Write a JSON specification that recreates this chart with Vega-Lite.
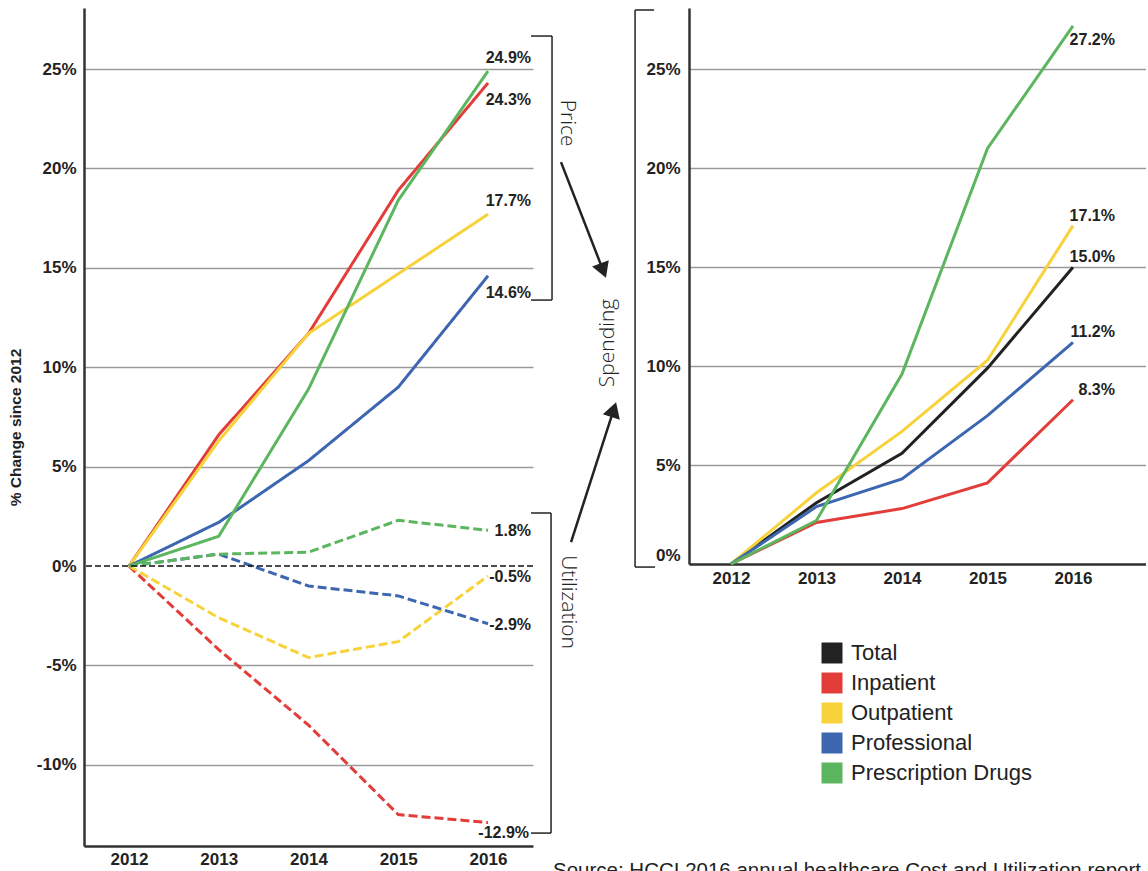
{
  "$schema": "https://vega.github.io/schema/vega-lite/v6.json",
  "background": "white",
  "padding": {"left": 8, "top": 8, "right": 0, "bottom": 0},
  "bounds": "flush",
  "spacing": 156,
  "title": {
    "text": "Source: HCCI 2016 annual healthcare Cost and Utilization report",
    "orient": "bottom",
    "anchor": "end",
    "font": "Liberation Sans",
    "fontSize": 20.5,
    "fontWeight": "normal",
    "color": "#222",
    "offset": -6,
    "dx": -5
  },
  "config": {
    "view": {"stroke": null},
    "font": "Liberation Sans",
    "locale": {"number": {"decimal": ".", "thousands": ",", "grouping": [3], "currency": ["$", ""], "minus": "-"}},
    "axis": {
      "labelFont": "Liberation Sans",
      "labelFontWeight": "bold",
      "labelFontSize": 17,
      "labelColor": "#222",
      "domainColor": "#333",
      "domainWidth": 2.5,
      "ticks": false,
      "gridColor": "#9a9a9a",
      "gridWidth": 1.5,
      "titleFont": "Liberation Sans",
      "titleFontWeight": "bold",
      "titleFontSize": 15.5,
      "titleColor": "#222"
    }
  },
  "datasets": {
    "trends": [
      {"panel": "left", "measure": "Price", "series": "Inpatient", "year": 2012, "value": 0},
      {"panel": "left", "measure": "Price", "series": "Inpatient", "year": 2013, "value": 0.066},
      {"panel": "left", "measure": "Price", "series": "Inpatient", "year": 2014, "value": 0.117},
      {"panel": "left", "measure": "Price", "series": "Inpatient", "year": 2015, "value": 0.189},
      {"panel": "left", "measure": "Price", "series": "Inpatient", "year": 2016, "value": 0.243},
      {"panel": "left", "measure": "Price", "series": "Outpatient", "year": 2012, "value": 0},
      {"panel": "left", "measure": "Price", "series": "Outpatient", "year": 2013, "value": 0.063},
      {"panel": "left", "measure": "Price", "series": "Outpatient", "year": 2014, "value": 0.117},
      {"panel": "left", "measure": "Price", "series": "Outpatient", "year": 2015, "value": 0.147},
      {"panel": "left", "measure": "Price", "series": "Outpatient", "year": 2016, "value": 0.177},
      {"panel": "left", "measure": "Price", "series": "Professional", "year": 2012, "value": 0},
      {"panel": "left", "measure": "Price", "series": "Professional", "year": 2013, "value": 0.022},
      {"panel": "left", "measure": "Price", "series": "Professional", "year": 2014, "value": 0.053},
      {"panel": "left", "measure": "Price", "series": "Professional", "year": 2015, "value": 0.090},
      {"panel": "left", "measure": "Price", "series": "Professional", "year": 2016, "value": 0.146},
      {"panel": "left", "measure": "Price", "series": "Prescription Drugs", "year": 2012, "value": 0},
      {"panel": "left", "measure": "Price", "series": "Prescription Drugs", "year": 2013, "value": 0.015},
      {"panel": "left", "measure": "Price", "series": "Prescription Drugs", "year": 2014, "value": 0.089},
      {"panel": "left", "measure": "Price", "series": "Prescription Drugs", "year": 2015, "value": 0.184},
      {"panel": "left", "measure": "Price", "series": "Prescription Drugs", "year": 2016, "value": 0.249},
      {"panel": "left", "measure": "Utilization", "series": "Inpatient", "year": 2012, "value": 0},
      {"panel": "left", "measure": "Utilization", "series": "Inpatient", "year": 2013, "value": -0.042},
      {"panel": "left", "measure": "Utilization", "series": "Inpatient", "year": 2014, "value": -0.080},
      {"panel": "left", "measure": "Utilization", "series": "Inpatient", "year": 2015, "value": -0.125},
      {"panel": "left", "measure": "Utilization", "series": "Inpatient", "year": 2016, "value": -0.129},
      {"panel": "left", "measure": "Utilization", "series": "Outpatient", "year": 2012, "value": 0},
      {"panel": "left", "measure": "Utilization", "series": "Outpatient", "year": 2013, "value": -0.026},
      {"panel": "left", "measure": "Utilization", "series": "Outpatient", "year": 2014, "value": -0.046},
      {"panel": "left", "measure": "Utilization", "series": "Outpatient", "year": 2015, "value": -0.038},
      {"panel": "left", "measure": "Utilization", "series": "Outpatient", "year": 2016, "value": -0.005},
      {"panel": "left", "measure": "Utilization", "series": "Professional", "year": 2012, "value": 0},
      {"panel": "left", "measure": "Utilization", "series": "Professional", "year": 2013, "value": 0.006},
      {"panel": "left", "measure": "Utilization", "series": "Professional", "year": 2014, "value": -0.010},
      {"panel": "left", "measure": "Utilization", "series": "Professional", "year": 2015, "value": -0.015},
      {"panel": "left", "measure": "Utilization", "series": "Professional", "year": 2016, "value": -0.029},
      {"panel": "left", "measure": "Utilization", "series": "Prescription Drugs", "year": 2012, "value": 0},
      {"panel": "left", "measure": "Utilization", "series": "Prescription Drugs", "year": 2013, "value": 0.006},
      {"panel": "left", "measure": "Utilization", "series": "Prescription Drugs", "year": 2014, "value": 0.007},
      {"panel": "left", "measure": "Utilization", "series": "Prescription Drugs", "year": 2015, "value": 0.023},
      {"panel": "left", "measure": "Utilization", "series": "Prescription Drugs", "year": 2016, "value": 0.018},
      {"panel": "right", "measure": "Spending", "series": "Total", "year": 2012, "value": 0},
      {"panel": "right", "measure": "Spending", "series": "Total", "year": 2013, "value": 0.031},
      {"panel": "right", "measure": "Spending", "series": "Total", "year": 2014, "value": 0.056},
      {"panel": "right", "measure": "Spending", "series": "Total", "year": 2015, "value": 0.099},
      {"panel": "right", "measure": "Spending", "series": "Total", "year": 2016, "value": 0.150},
      {"panel": "right", "measure": "Spending", "series": "Inpatient", "year": 2012, "value": 0},
      {"panel": "right", "measure": "Spending", "series": "Inpatient", "year": 2013, "value": 0.021},
      {"panel": "right", "measure": "Spending", "series": "Inpatient", "year": 2014, "value": 0.028},
      {"panel": "right", "measure": "Spending", "series": "Inpatient", "year": 2015, "value": 0.041},
      {"panel": "right", "measure": "Spending", "series": "Inpatient", "year": 2016, "value": 0.083},
      {"panel": "right", "measure": "Spending", "series": "Outpatient", "year": 2012, "value": 0},
      {"panel": "right", "measure": "Spending", "series": "Outpatient", "year": 2013, "value": 0.036},
      {"panel": "right", "measure": "Spending", "series": "Outpatient", "year": 2014, "value": 0.067},
      {"panel": "right", "measure": "Spending", "series": "Outpatient", "year": 2015, "value": 0.103},
      {"panel": "right", "measure": "Spending", "series": "Outpatient", "year": 2016, "value": 0.171},
      {"panel": "right", "measure": "Spending", "series": "Professional", "year": 2012, "value": 0},
      {"panel": "right", "measure": "Spending", "series": "Professional", "year": 2013, "value": 0.029},
      {"panel": "right", "measure": "Spending", "series": "Professional", "year": 2014, "value": 0.043},
      {"panel": "right", "measure": "Spending", "series": "Professional", "year": 2015, "value": 0.075},
      {"panel": "right", "measure": "Spending", "series": "Professional", "year": 2016, "value": 0.112},
      {"panel": "right", "measure": "Spending", "series": "Prescription Drugs", "year": 2012, "value": 0},
      {"panel": "right", "measure": "Spending", "series": "Prescription Drugs", "year": 2013, "value": 0.022},
      {"panel": "right", "measure": "Spending", "series": "Prescription Drugs", "year": 2014, "value": 0.096},
      {"panel": "right", "measure": "Spending", "series": "Prescription Drugs", "year": 2015, "value": 0.210},
      {"panel": "right", "measure": "Spending", "series": "Prescription Drugs", "year": 2016, "value": 0.272}
    ],
    "brackets": [
      {"x1": 2016.713, "y1": 0.2666, "x2": 2016.713, "y2": 0.1338},
      {"x1": 2016.479, "y1": 0.2666, "x2": 2016.713, "y2": 0.2666},
      {"x1": 2016.479, "y1": 0.1338, "x2": 2016.713, "y2": 0.1338},
      {"x1": 2016.702, "y1": 0.0267, "x2": 2016.702, "y2": -0.1343},
      {"x1": 2016.479, "y1": 0.0267, "x2": 2016.702, "y2": 0.0267},
      {"x1": 2016.479, "y1": -0.1343, "x2": 2016.702, "y2": -0.1343},
      {"x1": 2017.638, "y1": 0.2797, "x2": 2017.638, "y2": -0.0005},
      {"x1": 2017.638, "y1": 0.2797, "x2": 2017.850, "y2": 0.2797},
      {"x1": 2017.638, "y1": -0.0005, "x2": 2017.861, "y2": -0.0005}
    ],
    "arrows": [
      {"name": "price", "x1": 2016.813, "y1": 0.2032, "x2": 2017.283, "y2": 0.1486},
      {"name": "utilization", "x1": 2016.925, "y1": 0.0121, "x2": 2017.40, "y2": 0.0787}
    ],
    "notes": [
      {"text": "Price", "x": 2016.880, "y": 0.2228, "dir": "down"},
      {"text": "Utilization", "x": 2016.891, "y": -0.0181, "dir": "down"},
      {"text": "Spending", "x": 2017.337, "y": 0.1122, "dir": "up"}
    ]
  },
  "resolve": {
    "scale": {"color": "independent", "x": "independent", "y": "independent", "strokeDash": "independent"},
    "legend": {"color": "independent"}
  },
  "hconcat": [
    {
      "width": 449,
      "height": 838,
      "layer": [
        {
          "data": {"name": "trends"},
          "transform": [{"filter": "datum.panel === 'left'"}],
          "mark": {"type": "line", "strokeWidth": 3},
          "encoding": {
            "x": {"field": "year", "type": "quantitative", "scale": {"domain": [2011.499, 2016.501], "nice": false, "zero": false},
                  "axis": {"values": [2012, 2013, 2014, 2015, 2016], "format": "d", "title": null, "grid": false, "labelPadding": 5}},
            "y": {"field": "value", "type": "quantitative", "scale": {"domain": [-0.1408, 0.2807], "nice": false, "zero": false},
                  "axis": {"values": [-0.1, -0.05, 0, 0.05, 0.1, 0.15, 0.2, 0.25], "format": ".0%", "title": "% Change since 2012",
                           "grid": true, "gridColor": {"condition": {"test": "datum.value === 0", "value": "rgba(0,0,0,0)"}, "value": "#9a9a9a"},
                           "labelPadding": 8, "titlePadding": 13}},
            "color": {"field": "series", "type": "nominal",
                      "scale": {"domain": ["Total", "Inpatient", "Outpatient", "Professional", "Prescription Drugs"],
                                "range": ["#222222", "#e23d39", "#f8d23a", "#3c66b0", "#5cb660"]},
                      "legend": null},
            "strokeDash": {"field": "measure", "type": "nominal",
                           "scale": {"domain": ["Price", "Utilization"], "range": [[1, 0], [9, 4]]}, "legend": null}
          }
        },
        {
          "data": {"values": [{}]},
          "mark": {"type": "rule", "strokeDash": [6, 3], "color": "#111", "strokeWidth": 1.5},
          "encoding": {"y": {"datum": 0, "type": "quantitative", "scale": {"domain": [-0.1408, 0.2807], "nice": false, "zero": false}}}
        },
        {
          "data": {"name": "trends"},
          "transform": [{"filter": "datum.panel === 'left' && datum.year === 2016 && datum.measure === 'Price' && (datum.series === 'Prescription Drugs' || datum.series === 'Outpatient')"}],
          "mark": {"type": "text", "align": "right", "dx": 43, "dy": -13, "fontWeight": "bold", "fontSize": 16, "color": "#222"},
          "encoding": {
            "x": {"field": "year", "type": "quantitative", "scale": {"domain": [2011.499, 2016.501], "nice": false, "zero": false}},
            "y": {"field": "value", "type": "quantitative", "scale": {"domain": [-0.1408, 0.2807], "nice": false, "zero": false}},
            "text": {"field": "value", "type": "quantitative", "format": ".1%"}
          }
        },
        {
          "data": {"name": "trends"},
          "transform": [{"filter": "datum.panel === 'left' && datum.year === 2016 && datum.measure === 'Price' && (datum.series === 'Inpatient' || datum.series === 'Professional')"}],
          "mark": {"type": "text", "align": "right", "dx": 43, "dy": 17, "fontWeight": "bold", "fontSize": 16, "color": "#222"},
          "encoding": {
            "x": {"field": "year", "type": "quantitative", "scale": {"domain": [2011.499, 2016.501], "nice": false, "zero": false}},
            "y": {"field": "value", "type": "quantitative", "scale": {"domain": [-0.1408, 0.2807], "nice": false, "zero": false}},
            "text": {"field": "value", "type": "quantitative", "format": ".1%"}
          }
        },
        {
          "data": {"name": "trends"},
          "transform": [{"filter": "datum.panel === 'left' && datum.year === 2016 && datum.measure === 'Utilization' && datum.series !== 'Inpatient'"}],
          "mark": {"type": "text", "align": "right", "dx": 43, "dy": 1, "fontWeight": "bold", "fontSize": 16, "color": "#222"},
          "encoding": {
            "x": {"field": "year", "type": "quantitative", "scale": {"domain": [2011.499, 2016.501], "nice": false, "zero": false}},
            "y": {"field": "value", "type": "quantitative", "scale": {"domain": [-0.1408, 0.2807], "nice": false, "zero": false}},
            "text": {"field": "value", "type": "quantitative", "format": ".1%"}
          }
        },
        {
          "data": {"name": "trends"},
          "transform": [{"filter": "datum.panel === 'left' && datum.year === 2016 && datum.measure === 'Utilization' && datum.series === 'Inpatient'"}],
          "mark": {"type": "text", "align": "right", "dx": 41, "dy": 10, "fontWeight": "bold", "fontSize": 16, "color": "#222"},
          "encoding": {
            "x": {"field": "year", "type": "quantitative", "scale": {"domain": [2011.499, 2016.501], "nice": false, "zero": false}},
            "y": {"field": "value", "type": "quantitative", "scale": {"domain": [-0.1408, 0.2807], "nice": false, "zero": false}},
            "text": {"field": "value", "type": "quantitative", "format": ".1%"}
          }
        },
        {
          "data": {"name": "brackets"},
          "mark": {"type": "rule", "color": "#222", "strokeWidth": 1.5, "clip": false},
          "encoding": {
            "x": {"field": "x1", "type": "quantitative", "scale": {"domain": [2011.499, 2016.501], "nice": false, "zero": false}},
            "x2": {"field": "x2"},
            "y": {"field": "y1", "type": "quantitative", "scale": {"domain": [-0.1408, 0.2807], "nice": false, "zero": false}},
            "y2": {"field": "y2"}
          }
        },
        {
          "data": {"name": "arrows"},
          "mark": {"type": "rule", "color": "#222", "strokeWidth": 2.5, "clip": false},
          "encoding": {
            "x": {"field": "x1", "type": "quantitative", "scale": {"domain": [2011.499, 2016.501], "nice": false, "zero": false}},
            "x2": {"field": "x2"},
            "y": {"field": "y1", "type": "quantitative", "scale": {"domain": [-0.1408, 0.2807], "nice": false, "zero": false}},
            "y2": {"field": "y2"}
          }
        },
        {
          "data": {"name": "arrows"},
          "transform": [{"filter": "datum.name === 'price'"}],
          "mark": {"type": "point", "shape": "triangle-up", "filled": true, "size": 320, "angle": 159, "color": "#222", "opacity": 1, "clip": false},
          "encoding": {
            "x": {"field": "x2", "type": "quantitative", "scale": {"domain": [2011.499, 2016.501], "nice": false, "zero": false}},
            "y": {"field": "y2", "type": "quantitative", "scale": {"domain": [-0.1408, 0.2807], "nice": false, "zero": false}}
          }
        },
        {
          "data": {"name": "arrows"},
          "transform": [{"filter": "datum.name === 'utilization'"}],
          "mark": {"type": "point", "shape": "triangle-up", "filled": true, "size": 320, "angle": 18, "color": "#222", "opacity": 1, "clip": false},
          "encoding": {
            "x": {"field": "x2", "type": "quantitative", "scale": {"domain": [2011.499, 2016.501], "nice": false, "zero": false}},
            "y": {"field": "y2", "type": "quantitative", "scale": {"domain": [-0.1408, 0.2807], "nice": false, "zero": false}}
          }
        },
        {
          "data": {"name": "notes"},
          "transform": [{"filter": "datum.dir === 'down'"}],
          "mark": {"type": "text", "angle": 90, "align": "center", "baseline": "middle", "font": "Open Sans", "fontWeight": 300, "fontSize": 21, "color": "#222", "clip": false},
          "encoding": {
            "x": {"field": "x", "type": "quantitative", "scale": {"domain": [2011.499, 2016.501], "nice": false, "zero": false}},
            "y": {"field": "y", "type": "quantitative", "scale": {"domain": [-0.1408, 0.2807], "nice": false, "zero": false}},
            "text": {"field": "text"}
          }
        },
        {
          "data": {"name": "notes"},
          "transform": [{"filter": "datum.dir === 'up'"}],
          "mark": {"type": "text", "angle": 270, "align": "center", "baseline": "middle", "font": "Open Sans", "fontWeight": 300, "fontSize": 21, "color": "#222", "clip": false},
          "encoding": {
            "x": {"field": "x", "type": "quantitative", "scale": {"domain": [2011.499, 2016.501], "nice": false, "zero": false}},
            "y": {"field": "y", "type": "quantitative", "scale": {"domain": [-0.1408, 0.2807], "nice": false, "zero": false}},
            "text": {"field": "text"}
          }
        }
      ]
    },
    {
      "width": 457,
      "height": 556,
      "data": {"name": "trends"},
      "transform": [{"filter": "datum.panel === 'right'"}],
      "layer": [
        {
          "mark": {"type": "square", "opacity": 0},
          "encoding": {
            "x": {"field": "year", "type": "quantitative", "scale": {"domain": [2011.509, 2016.854], "nice": false, "zero": false},
                  "axis": {"values": [2012, 2013, 2014, 2015, 2016], "format": "d", "title": null, "grid": false, "labelPadding": 6}},
            "y": {"field": "value", "type": "quantitative", "scale": {"domain": [0, 0.281], "nice": false},
                  "axis": {"values": [0, 0.05, 0.1, 0.15, 0.2, 0.25], "format": ".0%", "title": null, "grid": true, "labelPadding": 9, "labelFlush": true}},
            "color": {"field": "series", "type": "nominal",
                      "scale": {"domain": ["Total", "Inpatient", "Outpatient", "Professional", "Prescription Drugs"],
                                "range": ["#222222", "#e23d39", "#f8d23a", "#3c66b0", "#5cb660"]},
                      "legend": {"title": null, "orient": "none", "legendX": 132, "legendY": 634, "symbolType": "square", "symbolSize": 441,
                                 "symbolOpacity": 1, "symbolStrokeWidth": 0, "labelFont": "Liberation Sans", "labelFontSize": 22,
                                 "labelColor": "#222", "labelOffset": 8, "labelLimit": 0, "rowPadding": 8, "padding": 0}}
          }
        },
        {
          "mark": {"type": "line", "strokeWidth": 3},
          "encoding": {
            "x": {"field": "year", "type": "quantitative", "scale": {"domain": [2011.509, 2016.854], "nice": false, "zero": false}},
            "y": {"field": "value", "type": "quantitative", "scale": {"domain": [0, 0.281], "nice": false}},
            "color": {"field": "series", "type": "nominal",
                      "scale": {"domain": ["Total", "Inpatient", "Outpatient", "Professional", "Prescription Drugs"],
                                "range": ["#222222", "#e23d39", "#f8d23a", "#3c66b0", "#5cb660"]},
                      "legend": {"title": null, "orient": "none", "legendX": 132, "legendY": 634, "symbolType": "square", "symbolSize": 441,
                                 "symbolOpacity": 1, "symbolStrokeWidth": 0, "labelFont": "Liberation Sans", "labelFontSize": 22,
                                 "labelColor": "#222", "labelOffset": 8, "labelLimit": 0, "rowPadding": 8, "padding": 0}}
          }
        },
        {
          "transform": [{"filter": "datum.year === 2016 && datum.series === 'Prescription Drugs'"}],
          "mark": {"type": "text", "align": "right", "dx": 42, "dy": 14, "fontWeight": "bold", "fontSize": 16, "color": "#222"},
          "encoding": {
            "x": {"field": "year", "type": "quantitative", "scale": {"domain": [2011.509, 2016.854], "nice": false, "zero": false}},
            "y": {"field": "value", "type": "quantitative", "scale": {"domain": [0, 0.281], "nice": false}},
            "text": {"field": "value", "type": "quantitative", "format": ".1%"}
          }
        },
        {
          "transform": [{"filter": "datum.year === 2016 && datum.series !== 'Prescription Drugs'"}],
          "mark": {"type": "text", "align": "right", "dx": 42, "dy": -10, "fontWeight": "bold", "fontSize": 16, "color": "#222"},
          "encoding": {
            "x": {"field": "year", "type": "quantitative", "scale": {"domain": [2011.509, 2016.854], "nice": false, "zero": false}},
            "y": {"field": "value", "type": "quantitative", "scale": {"domain": [0, 0.281], "nice": false}},
            "text": {"field": "value", "type": "quantitative", "format": ".1%"}
          }
        }
      ]
    }
  ]
}
